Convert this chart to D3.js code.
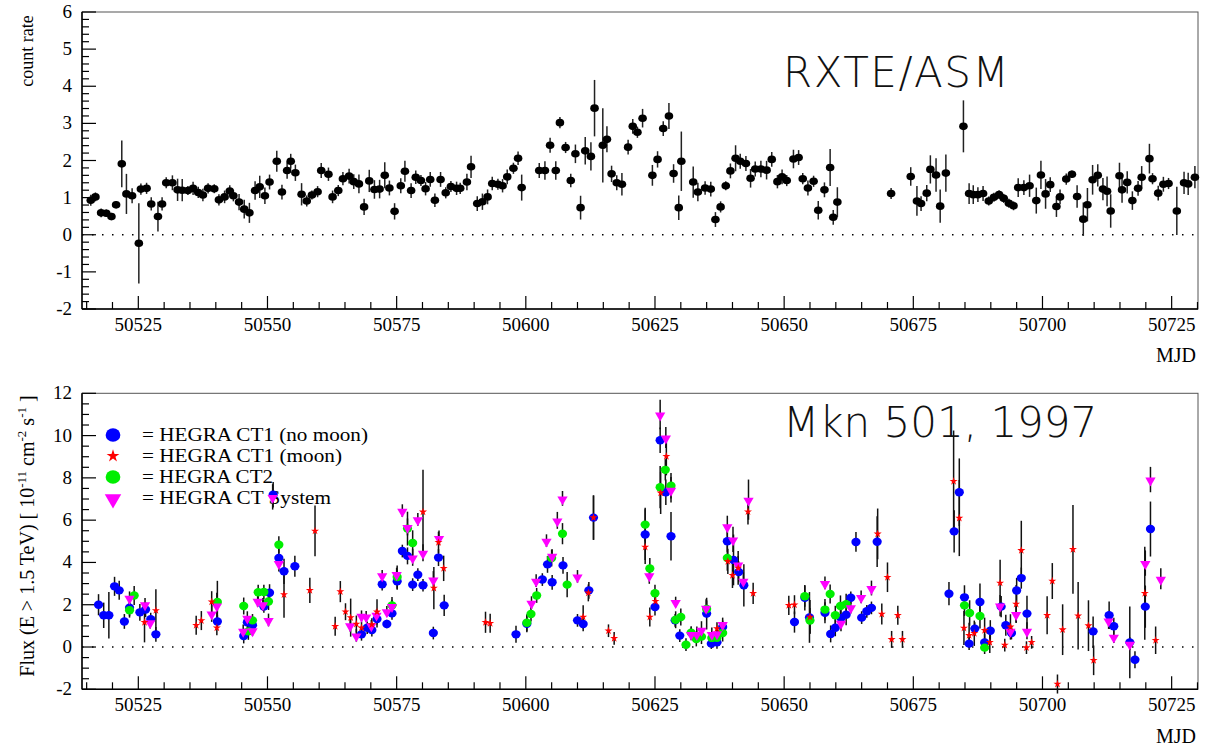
<!DOCTYPE html>
<html>
<head>
<meta charset="utf-8">
<script src="https://cdn.jsdelivr.net/npm/d3@7"></script>
<style>
  body { margin: 0; background: #fff; }
  svg { display: block; }
  .tick-label { font-family: "Liberation Serif", "Times New Roman", serif; font-size: 19px; fill: #000; }
  .title-big { font-family: "DejaVu Sans", sans-serif; font-weight: 200; font-size: 42px; fill: #111; }
</style>
</head>
<body>
<div class="container-viewer"></div>
<script>
//* DATOS *//
// RXTE/ASM: dia MJD, tasa de cuentas y error
const asmMjd = [50515.8,50516.7,50517.8,50518.8,50519.8,50520.7,50521.8,50522.7,50523.8,50525.1,50525.5,50526.6,50527.5,50528.8,50529.6,50530.4,50531.6,50532.6,50533.5,50534.6,50535.6,50536.6,50537.5,50538.5,50539.7,50540.6,50541.7,50542.7,50543.4,50544.5,50545.5,50546.5,50547.6,50548.5,50549.5,50550.4,50551.8,50552.8,50553.8,50554.5,50555.4,50556.6,50557.6,50558.6,50559.7,50560.4,50561.8,50562.6,50563.7,50564.6,50565.8,50566.7,50567.7,50568.7,50569.7,50570.7,50571.7,50572.7,50573.6,50574.6,50575.8,50576.6,50577.8,50578.7,50579.7,50580.6,50581.5,50582.4,50583.5,50584.5,50585.5,50586.6,50587.3,50588.6,50589.4,50590.6,50591.6,50592.6,50593.5,50594.6,50595.5,50596.4,50597.6,50598.5,50599.2,50602.6,50603.7,50604.7,50605.8,50606.6,50607.7,50608.7,50609.6,50610.6,50611.5,50612.6,50613.3,50614.9,50615.7,50616.6,50617.6,50618.6,50619.8,50620.7,50621.6,50622.6,50624.5,50625.5,50626.6,50627.7,50628.6,50629.6,50630.1,50632.4,50633.3,50634.7,50635.8,50636.7,50637.7,50638.7,50639.6,50640.6,50641.5,50642.6,50643.5,50644.4,50645.5,50646.6,50647.6,50648.7,50649.6,50650.5,50651.8,50652.8,50653.6,50654.6,50655.7,50656.6,50657.8,50658.9,50659.5,50660.3,50670.7,50674.5,50675.7,50676.5,50677.6,50678.3,50679.4,50680.2,50681.3,50684.7,50685.8,50686.6,50687.5,50688.5,50689.6,50690.6,50691.6,50692.5,50693.5,50694.4,50695.3,50696.4,50697.5,50698.8,50699.7,50700.6,50701.5,50702.7,50703.4,50704.6,50705.7,50706.7,50707.9,50708.7,50709.7,50710.7,50711.7,50712.5,50713.2,50714.9,50715.4,50716.4,50717.4,50718.5,50719.2,50720.7,50721.3,50722.4,50723.4,50724.4,50726.0,50727.4,50728.2,50729.5];
const asmRate = [0.93,1.02,0.59,0.58,0.49,0.81,1.91,1.10,1.05,-0.23,1.23,1.25,0.83,0.49,0.83,1.40,1.40,1.21,1.20,1.19,1.25,1.14,1.07,1.25,1.24,0.94,1.02,1.18,1.05,0.88,0.69,0.59,1.19,1.29,1.05,1.42,1.98,1.15,1.73,1.98,1.67,1.09,0.91,1.07,1.16,1.73,1.63,1.02,1.19,1.51,1.58,1.43,1.37,0.75,1.45,1.22,1.23,1.60,1.26,0.63,1.32,1.71,1.19,1.55,1.46,1.24,1.49,0.93,1.49,1.13,1.30,1.25,1.25,1.42,1.83,0.84,0.89,1.02,1.38,1.36,1.32,1.56,1.79,2.06,1.27,1.73,1.73,2.41,1.73,3.02,2.35,1.46,2.18,0.73,2.26,2.11,3.41,2.41,2.57,1.64,1.40,1.36,2.36,2.92,2.76,3.14,1.60,2.03,2.86,3.20,1.65,0.73,1.98,1.42,1.15,1.26,1.23,0.41,0.75,1.32,1.72,2.06,1.98,1.92,1.52,1.77,1.77,1.74,2.03,1.43,1.56,1.46,2.04,2.08,1.51,1.26,1.44,0.66,1.21,1.81,0.47,0.88,1.11,1.57,0.91,0.84,1.12,1.76,1.61,0.77,1.66,2.92,1.11,1.08,1.08,1.11,0.91,1.01,1.08,0.98,0.85,0.78,1.27,1.27,1.32,0.92,1.61,1.10,1.35,0.76,1.02,1.50,1.63,1.03,0.42,0.81,1.48,1.60,1.23,1.17,0.64,1.59,1.21,1.41,0.92,1.25,1.55,2.05,1.51,1.12,1.36,1.38,0.64,1.40,1.37,1.55];
const asmErr = [0.15,0.12,0.12,0.1,0.1,0.1,0.63,0.54,0.2,1.08,0.15,0.15,0.18,0.4,0.18,0.15,0.2,0.3,0.3,0.12,0.18,0.15,0.17,0.14,0.12,0.15,0.17,0.15,0.15,0.22,0.25,0.27,0.25,0.3,0.22,0.2,0.28,0.2,0.22,0.2,0.22,0.3,0.15,0.12,0.15,0.2,0.18,0.17,0.15,0.18,0.2,0.2,0.25,0.22,0.3,0.25,0.25,0.35,0.2,0.22,0.2,0.28,0.2,0.18,0.15,0.18,0.2,0.18,0.2,0.15,0.15,0.18,0.15,0.22,0.3,0.2,0.22,0.2,0.18,0.15,0.18,0.2,0.15,0.18,0.35,0.2,0.25,0.2,0.25,0.15,0.15,0.18,0.25,0.32,0.37,0.38,0.76,1.0,0.35,0.22,0.2,0.3,0.2,0.2,0.15,0.25,0.28,0.22,0.2,0.35,0.25,0.33,0.8,0.42,0.25,0.18,0.2,0.2,0.15,0.12,0.2,0.35,0.2,0.2,0.25,0.2,0.22,0.25,0.2,0.18,0.2,0.15,0.25,0.2,0.15,0.2,0.15,0.25,0.2,0.5,0.2,0.4,0.15,0.25,0.4,0.2,0.22,0.38,0.45,0.45,0.5,0.7,0.28,0.25,0.2,0.2,0.12,0.12,0.12,0.12,0.12,0.12,0.25,0.2,0.3,0.35,0.38,0.4,0.2,0.28,0.2,0.15,0.1,0.3,0.45,0.45,0.4,0.3,0.3,0.4,0.45,0.35,0.35,0.3,0.25,0.2,0.3,0.4,0.15,0.2,0.2,0.15,0.65,0.3,0.3,0.3];

// HEGRA: [MJD, flujo, error]
const ct1NoMoon = [[50517.3,2.00,0.5],[50518.3,1.50,0.6],[50519.3,1.50,1.1],[50520.4,2.87,0.45],[50521.3,2.68,0.45],[50522.3,1.21,0.35],[50523.3,1.86,0.4],[50525.3,1.64,0.4],[50526.4,1.77,0.35],[50527.4,1.32,0.3],[50528.4,0.60,0.35],
  [50540.3,1.21,0.3],[50545.4,0.52,0.35],[50546.1,1.17,0.3],[50547.1,1.03,0.3],[50549.3,1.92,0.3],[50550.4,2.57,0.4],[50551.1,7.20,0.6],[50552.2,4.21,0.5],[50553.2,3.58,0.6],[50555.3,3.82,0.5],
  [50568.2,0.60,0.3],[50569.3,0.91,0.3],[50570.2,0.80,0.3],[50571.2,1.32,0.4],[50572.2,2.97,0.3],[50573.1,1.09,0.2],[50574.1,1.59,0.3],[50575.1,3.11,0.4],[50576.1,4.54,0.3],[50577.1,4.31,0.4],[50578.1,2.95,0.3],[50579.1,3.42,0.3],[50580.1,2.92,0.3],[50582.1,0.66,0.3],[50583.1,4.23,0.4],[50584.2,1.97,0.5],
  [50598.1,0.60,0.4],[50600.2,1.10,0.4],[50603.2,3.19,0.3],[50604.2,3.91,0.4],[50605.1,3.06,0.35],[50607.2,3.86,0.4],[50610.0,1.26,0.3],[50611.1,1.09,0.35],[50612.2,2.68,0.4],[50613.1,6.12,1.05],
  [50623.1,5.32,1.2],[50625.0,1.89,0.4],[50626.0,9.78,0.6],[50627.1,7.32,0.6],[50628.1,5.24,1.15],[50628.9,1.26,0.3],[50629.8,0.54,0.3],[50635.0,1.58,0.75],[50635.9,0.16,0.25],[50637.0,0.22,0.3],[50638.1,0.95,0.3],[50639.0,5.00,0.5],[50640.2,4.12,1.2],[50641.2,3.55,0.5],[50642.2,2.92,1.0],
  [50652.0,1.18,0.5],[50654.0,2.33,0.6],[50654.9,1.40,1.2],[50657.9,1.62,0.5],[50659.0,0.62,0.4],[50659.9,0.91,0.4],[50661.0,1.37,0.5],[50662.0,1.53,0.5],[50662.9,2.33,0.3],[50663.9,4.97,0.47],[50665.0,1.39,0.3],[50666.0,1.69,0.3],[50666.9,1.85,0.3],[50668.0,4.98,1.2],
  [50681.9,2.52,0.55],[50682.9,5.47,1.0],[50683.9,7.32,1.6],[50684.9,2.35,0.57],[50685.8,0.16,0.3],[50686.9,0.87,0.3],[50687.9,2.13,0.87],[50688.8,0.21,0.4],[50689.9,0.77,0.5],[50692.0,1.91,0.5],[50692.9,1.03,0.5],[50694.0,0.66,0.3],[50695.0,2.67,0.6],[50695.9,3.26,0.5],[50697.0,1.58,0.85],
  [50709.8,0.74,0.7],[50712.9,1.50,0.65],[50713.8,0.98,0.4],[50716.9,0.22,1.7],[50717.9,-0.60,0.4],[50719.9,1.91,1.0],[50720.9,5.58,1.3]];
const ct1Moon = [[50526.2,1.17,0.95],[50528.4,1.73,1.0],[50536.2,1.03,0.45],[50537.2,1.25,0.45],[50539.2,2.14,0.5],[50540.2,0.91,0.35],[50553.2,2.48,1.1],[50558.2,2.68,0.6],[50559.2,5.49,1.2],[50563.1,0.98,0.45],[50564.1,2.62,0.5],[50565.1,1.67,0.4],[50566.1,1.39,0.9],[50567.2,1.09,0.4],[50568.2,0.91,0.3],[50570.2,1.06,0.3],[50571.2,1.66,0.6],[50580.1,6.39,2.0],[50582.2,2.79,1.0],[50583.1,4.95,0.5],[50584.1,3.72,0.6],
  [50592.2,1.17,0.5],[50593.1,1.12,0.45],[50611.1,1.42,0.55],[50612.1,2.56,0.4],[50613.1,6.12,1.05],[50616.0,0.77,0.3],[50617.1,0.41,0.3],[50623.1,4.73,0.8],[50624.0,1.42,0.45],[50625.1,2.16,0.45],[50626.1,7.29,1.0],[50627.2,9.02,0.9],[50637.0,0.87,0.3],[50639.1,4.05,0.6],[50640.0,3.39,0.6],[50641.1,3.74,0.8],[50643.0,6.40,0.6],[50644.0,2.54,0.5],[50650.9,1.97,0.45],[50652.0,2.00,0.45],[50655.0,1.42,0.8],
  [50668.1,5.35,1.2],[50668.9,1.56,0.5],[50670.0,3.30,0.7],[50670.8,0.36,0.4],[50672.0,1.50,0.45],[50672.9,0.36,0.4],[50682.8,7.84,2.4],[50683.9,6.10,1.8],[50684.8,0.90,0.8],[50685.8,0.55,0.6],[50686.8,0.65,0.6],[50688.8,0.79,0.6],[50689.8,0.22,0.5],[50691.8,3.03,1.1],[50692.7,0.09,0.3],[50693.8,0.95,0.6],[50694.9,2.03,0.9],[50695.9,4.57,1.4],[50696.9,-0.03,0.3],[50697.9,0.22,0.3],[50700.9,1.50,0.9],[50701.9,3.12,0.85],[50702.9,-1.75,0.45],[50703.9,0.82,1.2],[50705.9,4.62,2.1],[50706.9,1.48,1.6],[50708.9,1.01,1.2],[50709.9,-0.63,0.7],[50719.8,2.54,2.2],[50721.9,0.32,0.65]];
const ct2 = [[50523.3,1.74,0.35],[50524.2,2.44,0.45],[50540.3,2.13,1.0],[50545.4,1.94,0.4],[50546.3,0.74,0.4],[50547.1,1.26,0.3],[50548.2,2.59,0.35],[50549.3,2.60,0.35],[50550.2,2.15,0.4],[50552.2,4.84,0.4],[50574.1,1.97,0.4],[50575.1,3.31,0.55],[50577.1,5.60,0.8],[50578.1,4.92,0.6],
  [50600.2,1.15,0.4],[50601.0,1.56,0.35],[50602.1,2.44,0.35],[50605.0,4.21,0.4],[50607.1,5.36,0.5],[50608.0,2.95,0.6],[50623.1,5.79,0.8],[50624.0,3.71,0.5],[50625.0,2.54,0.4],[50626.0,7.56,1.0],[50627.0,8.38,0.5],[50628.1,7.63,0.6],[50629.0,1.29,0.4],[50630.0,1.42,0.4],[50631.0,0.11,0.3],[50632.0,0.68,0.3],[50633.0,0.38,0.35],[50634.0,0.49,0.35],[50635.0,1.80,0.4],[50636.0,0.43,0.3],[50637.0,0.44,0.35],[50638.1,0.66,0.4],[50639.0,4.21,0.6],
  [50654.0,2.40,0.5],[50655.0,1.25,0.6],[50657.9,1.77,0.5],[50658.9,2.51,0.45],[50659.9,1.50,0.45],[50660.9,1.94,0.5],[50662.0,2.02,0.5],[50684.9,1.97,0.5],[50685.9,1.61,0.6],[50687.9,1.47,0.6],[50688.8,-0.03,0.3]];
const ctSystem = [[50523.3,2.33,0.3],[50526.3,2.02,0.3],[50527.3,1.17,0.3],[50539.2,1.59,0.4],[50540.2,1.97,0.6],[50545.3,0.77,0.3],[50546.1,1.39,0.3],[50547.1,0.79,0.25],[50548.1,2.19,0.3],[50549.1,2.02,0.3],[50550.2,1.28,0.3],[50551.0,7.10,0.6],[50552.2,3.97,0.4],
  [50566.0,1.03,0.3],[50567.2,0.55,0.3],[50568.2,1.48,0.25],[50569.1,1.45,0.25],[50570.1,1.03,0.25],[50571.1,1.53,0.25],[50572.2,3.39,0.25],[50573.1,1.69,0.25],[50574.1,1.94,0.3],[50575.0,3.45,0.3],[50576.1,6.45,0.3],[50577.1,5.68,0.4],[50578.1,4.24,0.4],[50579.1,6.04,0.3],[50580.1,4.46,0.4],[50582.1,3.19,0.4],[50583.2,5.16,0.35],
  [50601.1,2.10,0.3],[50602.0,3.14,0.3],[50604.0,5.03,0.3],[50605.1,4.32,0.3],[50606.1,5.99,0.4],[50607.1,7.03,0.35],[50610.0,3.34,0.3],[50623.9,3.39,0.4],[50626.0,11.0,0.7],[50627.1,9.91,0.5],[50628.1,7.44,0.6],[50629.0,2.13,0.25],[50632.0,0.62,0.3],[50633.1,0.62,0.35],[50634.0,0.82,0.4],[50634.9,1.86,0.4],[50636.0,0.62,0.3],[50637.0,0.65,0.3],[50638.1,1.09,0.3],[50639.0,5.71,0.5],[50640.1,5.09,0.6],[50641.1,3.90,0.4],[50642.1,3.14,0.4],[50643.1,6.97,0.95],
  [50657.9,3.03,0.3],[50661.0,1.15,0.4],[50662.9,1.88,0.3],[50664.9,2.37,0.3],[50666.9,2.79,0.35],[50691.8,1.96,0.5],[50693.8,0.77,0.3],[50694.9,1.56,0.4],[50697.0,0.77,0.4],[50712.8,1.26,0.4],[50713.8,0.49,0.3],[50716.9,0.16,0.3],[50719.9,3.97,0.6],[50720.9,7.92,0.6],[50722.9,3.23,0.5]];

const legendLabels = ['= HEGRA CT1 (no moon)', '= HEGRA CT1 (moon)', '= HEGRA CT2', '= HEGRA CT System'];
const legendWidths = [226, 200, 131, 189];
const mjdDomain = [50514.1, 50730.1];
const xMajorTicks = [50525, 50550, 50575, 50600, 50625, 50650, 50675, 50700, 50725];

//* DIBUJO *//
const W = 1206, H = 750;
const svg = d3.select('.container-viewer').append('svg').attr('width', W).attr('height', H);
const left = 82, right = 1198;
const x = d3.scaleLinear().domain(mjdDomain).range([left, right]);
const xMinor = d3.range(50515, 50731, 5);
const serif = '"Liberation Serif", "Times New Roman", serif';

// dibuja marco, ejes, ticks y linea de cero de un panel
function drawFrame(y, top, bottom, yMajor, yMinor, labelBase) {
	svg.append('rect').attr('x', left).attr('y', top).attr('width', right - left).attr('height', bottom - top)
		.attr('fill', 'none').attr('stroke', '#555').attr('stroke-width', 1);
	// eje y
	svg.append('line').attr('x1', left).attr('x2', left).attr('y1', top).attr('y2', bottom).attr('stroke', '#000').attr('stroke-width', 1.5);
	svg.append('g').selectAll('line').data(yMinor).enter().append('line')
		.attr('x1', left).attr('x2', (d) => left + (yMajor.includes(d) ? 14 : 7))
		.attr('y1', (d) => y(d)).attr('y2', (d) => y(d)).attr('stroke', '#000').attr('stroke-width', 1.2);
	svg.append('g').selectAll('text').data(yMajor).enter().append('text')
		.attr('class', 'tick-label').attr('x', 72).attr('y', (d) => y(d) + 6).attr('text-anchor', 'end')
		.style('font-family', serif).text((d) => d);
	// eje x
	svg.append('line').attr('x1', left).attr('x2', right).attr('y1', bottom).attr('y2', bottom).attr('stroke', '#000').attr('stroke-width', 1.5);
	svg.append('g').selectAll('line').data(xMinor).enter().append('line')
		.attr('x1', (d) => x(d)).attr('x2', (d) => x(d))
		.attr('y1', bottom).attr('y2', (d) => bottom - (d % 25 === 0 ? 13 : 7)).attr('stroke', '#000').attr('stroke-width', 1.2);
	svg.append('g').selectAll('text').data(xMajorTicks).enter().append('text')
		.attr('class', 'tick-label').attr('x', (d) => x(d)).attr('y', labelBase).attr('text-anchor', 'middle')
		.style('font-family', serif).text((d) => d);
	// linea de cero punteada
	svg.append('line').attr('x1', left).attr('x2', right).attr('y1', y(0)).attr('y2', y(0))
		.attr('stroke', '#000').attr('stroke-width', 1.3).attr('stroke-dasharray', '1.5,8.5');
}

//* PANEL SUPERIOR: RXTE/ASM *//
const yTop = d3.scaleLinear().domain([-2, 6]).range([309, 12]);
drawFrame(yTop, 12, 309, d3.range(-2, 7, 1), d3.range(-2, 6.01, 0.2).map((d) => +d.toFixed(1)), 331);

svg.append('text').attr('class', 'title-big').attr('x', 783).attr('y', 87)
	.style('letter-spacing', '1.5px').text('RXTE/ASM');
svg.append('text').attr('transform', 'translate(33,51) rotate(-90)').attr('text-anchor', 'middle')
	.style('font-family', serif).style('font-size', '18px').text('count rate');
svg.append('text').attr('x', 1196).attr('y', 362).attr('text-anchor', 'end')
	.style('font-family', serif).style('font-size', '20px').text('MJD');

const asmData = asmMjd.map((d, i) => ({ mjd: d, v: asmRate[i], e: asmErr[i] }));
const gTop = svg.append('g');
gTop.selectAll('line').data(asmData).enter().append('line')
	.attr('x1', (d) => x(d.mjd)).attr('x2', (d) => x(d.mjd))
	.attr('y1', (d) => yTop(d.v - d.e)).attr('y2', (d) => yTop(d.v + d.e))
	.attr('stroke', '#222').attr('stroke-width', 1.5);
gTop.selectAll('ellipse').data(asmData).enter().append('ellipse')
	.attr('cx', (d) => x(d.mjd)).attr('cy', (d) => yTop(d.v)).attr('rx', 4.3).attr('ry', 3.8).attr('fill', '#000');

//* PANEL INFERIOR: HEGRA *//
const yBot = d3.scaleLinear().domain([-2, 12]).range([689.3, 393.3]);
drawFrame(yBot, 393.3, 689.3, d3.range(-2, 13, 2), d3.range(-2, 12.01, 0.5), 711);

svg.append('text').attr('class', 'title-big').attr('x', 783).attr('y', 437).text('Mkn 501, 1997');
svg.append('text').attr('x', 1196).attr('y', 743).attr('text-anchor', 'end')
	.style('font-family', serif).style('font-size', '20px').text('MJD');

const yTitle = svg.append('text').attr('transform', 'translate(34,536) rotate(-90)').attr('text-anchor', 'middle')
	.style('font-family', serif).style('font-size', '20px');
yTitle.append('tspan').text('Flux (E > 1.5 TeV) [ 10');
yTitle.append('tspan').attr('dy', -8).style('font-size', '13px').text('-11');
yTitle.append('tspan').attr('dy', 8).text(' cm');
yTitle.append('tspan').attr('dy', -8).style('font-size', '13px').text('-2');
yTitle.append('tspan').attr('dy', 8).text(' s');
yTitle.append('tspan').attr('dy', -8).style('font-size', '13px').text('-1');
yTitle.append('tspan').attr('dy', 8).text(' ]');

// simbolos
const colors = ['#0000ff', '#ff0000', '#00ee00', '#ff00ff'];
function drawMarker(g, kind, cx, cy, big) {
	const s = big ? 1.6 : 1;
	if (kind === 0 || kind === 2) {
		g.append('ellipse').attr('cx', cx).attr('cy', cy).attr('rx', 4.6 * s).attr('ry', 4.2 * s).attr('fill', colors[kind]);
	} else if (kind === 1) {
		g.append('path').attr('d', d3.symbol(d3.symbolStar, 20 * s * s)())
			.attr('transform', `translate(${cx},${cy})`).attr('fill', colors[kind]);
	} else {
		g.append('path').attr('d', d3.symbol(d3.symbolTriangle, 46 * s * s)())
			.attr('transform', `translate(${cx},${cy + 1}) rotate(180)`).attr('fill', colors[kind]);
	}
}

// leyenda
const legend = svg.append('g');
legendLabels.forEach((t, i) => {
	const ly = 435 + i * 21;
	drawMarker(legend, i, 113, ly, true);
	legend.append('text').attr('x', 142).attr('y', ly + 6)
		.attr('textLength', legendWidths[i]).attr('lengthAdjust', 'spacingAndGlyphs')
		.style('font-family', serif).style('font-size', '18px').text(t);
});

// datos
const series = [ct1NoMoon, ct1Moon, ct2, ctSystem];
const order = [0, 2, 3, 1];
const gErr = svg.append('g');
series.forEach((s) => {
	gErr.selectAll(null).data(s).enter().append('line')
		.attr('x1', (d) => x(d[0])).attr('x2', (d) => x(d[0]))
		.attr('y1', (d) => yBot(d[1] - d[2])).attr('y2', (d) => yBot(d[1] + d[2]))
		.attr('stroke', '#111').attr('stroke-width', 1.5);
});
const gPts = svg.append('g');
order.forEach((k) => {
	series[k].forEach((d) => drawMarker(gPts, k, x(d[0]), yBot(d[1]), false));
});
</script>
</body>
</html>
